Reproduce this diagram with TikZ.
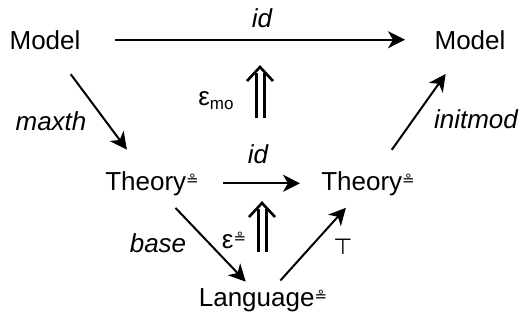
\documentclass[tikz,border=0pt]{standalone}
\usepackage{fontspec}
\setmainfont{Liberation Sans}
\newfontfamily\symfont{DejaVu Sans}
\usetikzlibrary{arrows.meta, calc}

\newcommand{\ringeq}{\raisebox{5pt}{\symfont\fontsize{15}{15}\selectfont ≗}}

\begin{document}
\begin{tikzpicture}[x=1pt, y=-1pt,
    obj/.style={font=\fontsize{26}{30}\selectfont, inner sep=0pt, anchor=base},
    lbl/.style={font=\fontsize{26}{30}\selectfont\itshape, inner sep=0pt, anchor=base},
    arr/.style={line width=2pt, -{Stealth[length=17pt, width=17pt, inset=5pt]}},
    dbl/.style={double, double distance=5pt, line width=3pt},
    chev/.style={line width=2.6pt, line join=miter, line cap=butt}]
    \useasboundingbox (0,0) rectangle (519,321);

    % Objects
    \node[obj] (mL) at (45,49) {Model};
    \node[obj] (mR) at (470,49) {Model};
    \node[obj] (thL) at (152,190) {Theory\ringeq};
    \node[obj] (thR) at (368,190) {Theory\ringeq};
    \node[obj] (lang) at (263,306) {Language\ringeq};

    % Morphisms
    \draw[arr, shorten <=70pt, shorten >=65pt] (mL.center) -- (mR.center);
    \draw[arr, shorten <=43pt, shorten >=42pt] (mL.center) -- (thL.center);
    \draw[arr, shorten <=71pt, shorten >=68pt] (thL.center) -- (thR.center);
    \draw[arr, shorten <=41pt, shorten >=42pt] (thR.center) -- (mR.center);
    \draw[arr, shorten <=34pt, shorten >=25pt] (thL.center) -- (lang.center);
    \draw[arr, shorten <=26pt, shorten >=33pt] (lang.center) -- (thR.center);

    \node[lbl] (lid) at (262,28) {id};
    \node[lbl] (lmaxth) at (51,130) {maxth};
    \node[lbl] (lid2) at (258,163) {id};
    \node[lbl] (linit) at (476,128) {initmod};
    \node[lbl] (lbase) at (158,252) {base};
    \node[font=\symfont\fontsize{22}{22}\selectfont, inner sep=0pt] (ltop) at (343,247) {⊤};

    % 2-cells
    \coordinate (emoS) at (260,118);
    \coordinate (emoT) at (260,73);
    \coordinate (eqS) at (262,252);
    \coordinate (eqT) at (262,209);
    \draw[dbl] (emoS) -- (emoT);
    \draw[chev] ($(emoT)+(-13,8)$) -- ($(emoT)+(0,-6)$) -- ($(emoT)+(13,8)$);
    \draw[dbl] (eqS) -- (eqT);
    \draw[chev] ($(eqT)+(-13,8)$) -- ($(eqT)+(0,-6)$) -- ($(eqT)+(13,8)$);
    \node[obj] (lemo) at (216,105) {ε\raisebox{-4pt}{\fontsize{17}{17}\selectfont mo}};
    \node[obj] (leq) at (234,248) {ε\ringeq};
\end{tikzpicture}
\end{document}
